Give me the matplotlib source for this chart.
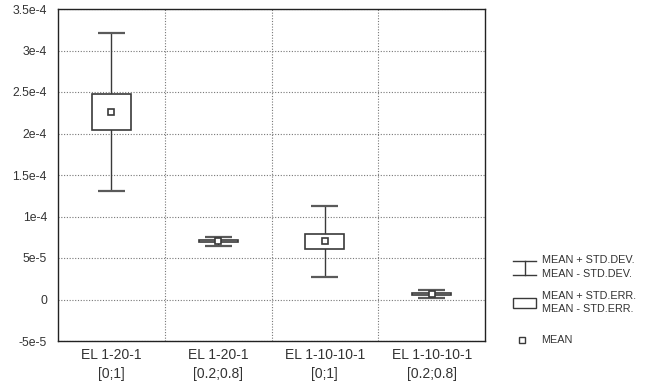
import matplotlib
matplotlib.use("Agg")
import matplotlib.pyplot as plt
from matplotlib.lines import Line2D
from matplotlib.patches import Rectangle
import numpy as np

plt.rcParams['font.family'] = ['Liberation Sans', 'DejaVu Sans']

categories = ["EL 1-20-1\n[0;1]", "EL 1-20-1\n[0.2;0.8]", "EL 1-10-10-1\n[0;1]", "EL 1-10-10-1\n[0.2;0.8]"]
means = [2.26e-4, 0.70e-4, 0.70e-4, 0.065e-4]
std_dev = [0.955e-4, 0.05e-4, 0.425e-4, 0.045e-4]
std_err = [0.22e-4, 0.012e-4, 0.09e-4, 0.012e-4]
ytick_vals = [-5e-5, 0, 5e-5, 1e-4, 1.5e-4, 2e-4, 2.5e-4, 3e-4, 3.5e-4]
ytick_labels = ["-5e-5", "0", "5e-5", "1e-4", "1.5e-4", "2e-4", "2.5e-4", "3e-4", "3.5e-4"]

TXT = '#333333'
LC = '#3a3a3a'

fig = plt.figure(figsize=(6.47, 3.88), dpi=100)
ax = fig.add_axes([58/647, 47/388, 427/647, 332/388])

x = np.arange(len(categories))
m = np.array(means); sd = np.array(std_dev); se = np.array(std_err)
box_w = 0.365
cap_half = 0.127

ax.vlines(x, m - sd, m + sd, color=LC, lw=1.0, zorder=3)
ax.hlines(m + sd, x - cap_half, x + cap_half, color='#5a5a5a', lw=1.6, zorder=3)
ax.hlines(m - sd, x - cap_half, x + cap_half, color='#5a5a5a', lw=1.6, zorder=3)
ax.bar(x, 2 * se, bottom=m - se, width=box_w, facecolor='white', edgecolor=LC, lw=1.2, zorder=4)
ax.plot(x, m, ls='none', marker='s', ms=5, mfc='white', mec=LC, mew=1.2, zorder=5)

ax.set_xlim(-0.5, len(categories) - 0.5)
ax.set_ylim(-5e-5, 3.5e-4)
ax.set_xticks(x)
ax.set_xticklabels(categories, fontsize=10, color=TXT, linespacing=1.5)
ax.set_xticks(x[:-1] + 0.5, minor=True)
ax.set_yticks(ytick_vals)
ax.set_yticklabels(ytick_labels, fontsize=8.8, color=TXT)
ax.tick_params(axis='both', which='both', length=0)
ax.tick_params(axis='y', pad=8)
ax.tick_params(axis='x', pad=5)
ax.grid(axis='y', which='major', ls=(0, (1, 1.5)), color='#777777', lw=0.8)
ax.grid(axis='x', which='minor', ls=(0, (1, 1.5)), color='#777777', lw=0.8)
ax.grid(axis='x', which='major', visible=False)
ax.set_axisbelow(True)
for s in ax.spines.values():
    s.set_color('#222222'); s.set_linewidth(1.0)

# legend (figure pixel overlay)
lg = fig.add_axes([0, 0, 1, 1])
lg.set_xlim(0, 647); lg.set_ylim(388, 0); lg.axis('off')
lg.add_line(Line2D([513, 536], [261, 261], color=LC, lw=1.0))
lg.add_line(Line2D([513, 536], [275, 275], color=LC, lw=1.0))
lg.add_line(Line2D([524.5, 524.5], [261, 275], color=LC, lw=1.0))
lg.add_patch(Rectangle((513, 297.5), 23, 10.5, facecolor='white', edgecolor=LC, lw=1.0))
lg.plot([521.5], [340], ls='none', marker='s', ms=4.5, mfc='white', mec=LC, mew=1.0)
fs = 7.8
for ty, t in [(260, "MEAN + STD.DEV."), (274, "MEAN - STD.DEV."),
              (296, "MEAN + STD.ERR."), (309.5, "MEAN - STD.ERR."), (340, "MEAN")]:
    lg.text(541.5, ty, t, fontsize=fs, color=TXT, va='center', ha='left')

fig.savefig("out.png", dpi=100)
